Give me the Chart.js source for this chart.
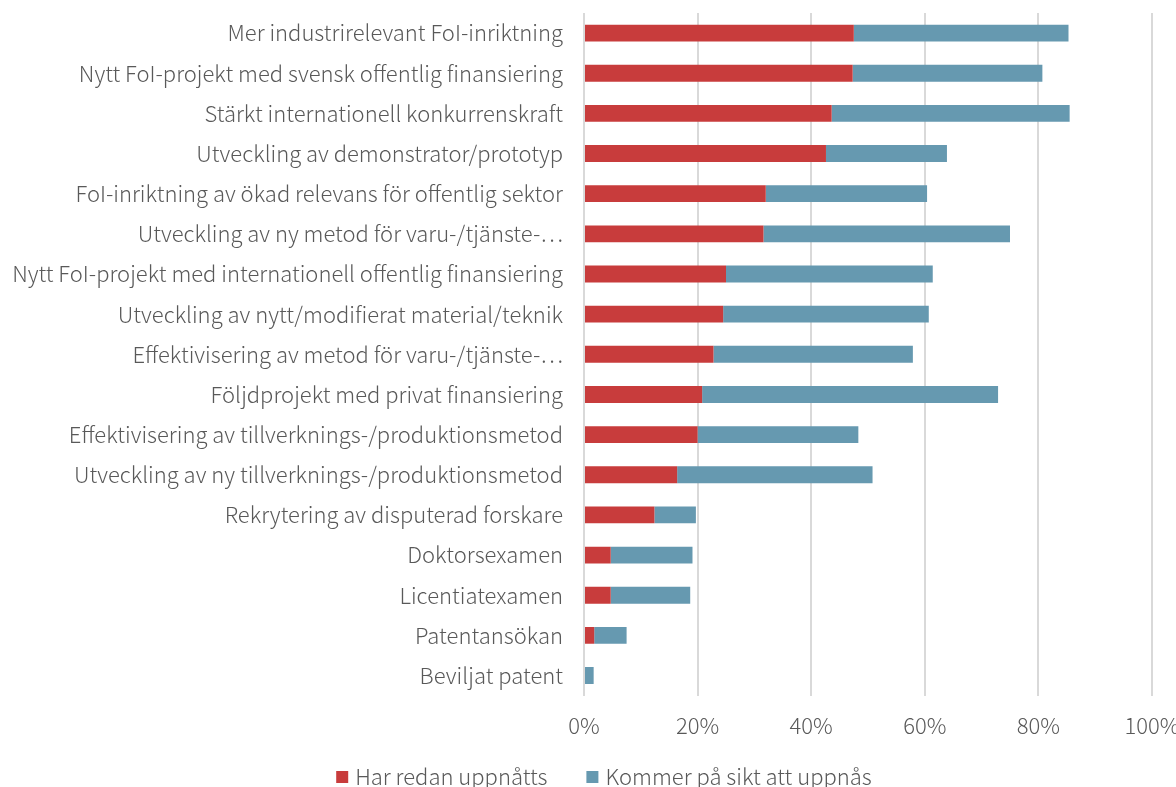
<!DOCTYPE html>
<html lang="sv">
<head>
<meta charset="utf-8">
<title>Uppnådda effekter</title>
<script src="https://cdn.jsdelivr.net/npm/chart.js@4/dist/chart.umd.min.js"></script>
<style>
  html, body { margin: 0; padding: 0; background: #fff; }
  #wrap { width: 1176px; height: 787px; position: relative; }
</style>
</head>
<body>
<div id="wrap"><canvas id="Grafico"></canvas></div>
<script>
// Effekter av projekten (andel, %)
const kategorier = [
  'Mer industrirelevant FoI-inriktning',
  'Nytt FoI-projekt med svensk offentlig finansiering',
  'Stärkt internationell konkurrenskraft',
  'Utveckling av demonstrator/prototyp',
  'FoI-inriktning av ökad relevans för offentlig sektor',
  'Utveckling av ny metod för varu-/tjänste-⋯',
  'Nytt FoI-projekt med internationell offentlig finansiering',
  'Utveckling av nytt/modifierat material/teknik',
  'Effektivisering av metod för varu-/tjänste-⋯',
  'Följdprojekt med privat finansiering',
  'Effektivisering av tillverknings-/produktionsmetod',
  'Utveckling av ny tillverknings-/produktionsmetod',
  'Rekrytering av disputerad forskare',
  'Doktorsexamen',
  'Licentiatexamen',
  'Patentansökan',
  'Beviljat patent'
];

const harRedanUppnatts = [47.5, 47.3, 43.6, 42.6, 32.0, 31.6, 25.0, 24.5, 22.8, 20.8, 20.0, 16.4, 12.4, 4.7, 4.7, 1.8, 0];
const kommerPaSikt     = [37.8, 33.4, 41.9, 21.3, 28.4, 43.4, 36.4, 36.2, 35.1, 52.1, 28.3, 34.4, 7.3, 14.4, 14.0, 5.7, 1.7];

const seriesNamn = ['Har redan uppnåtts', 'Kommer på sikt att uppnås'];
const farger = ['#C83C3C', '#6699B0'];

const FONT = '"Noto Sans CJK JP", "Noto Sans", sans-serif';
const TEXTFARG = '#595959';
const textFont = { family: FONT, size: 22, weight: 300 };

// Egen förklaring under diagrammet (rutor + text), centrerad kring legendMitt
const legendMitt = { x: 604, y: 777 };
const egenForklaring = {
  id: 'egenForklaring',
  afterDraw(chart) {
    const c = chart.ctx;
    const ruta = 12, glapp = 7, mellan = 39;
    c.save();
    c.font = '300 22px ' + FONT;
    c.textBaseline = 'middle';
    c.textAlign = 'left';
    const items = chart.data.datasets.map(ds => ({
      text: ds.label, color: ds.backgroundColor, w: c.measureText(ds.label).width
    }));
    const total = items.reduce((s, it) => s + ruta + glapp + it.w, 0) + mellan * (items.length - 1);
    let x = legendMitt.x - total / 2;
    items.forEach(it => {
      c.fillStyle = it.color;
      c.fillRect(x, legendMitt.y - ruta / 2, ruta, ruta);
      x += ruta + glapp;
      c.fillStyle = TEXTFARG;
      c.fillText(it.text, x, legendMitt.y);
      x += it.w + mellan;
    });
    c.restore();
  }
};

document.addEventListener('DOMContentLoaded', function() {
  const ctx = document.getElementById('Grafico').getContext('2d');

  const data = {
    labels: kategorier,
    datasets: [
      { label: seriesNamn[0], data: harRedanUppnatts, backgroundColor: farger[0] },
      { label: seriesNamn[1], data: kommerPaSikt, backgroundColor: farger[1] }
    ]
  };

  const options = {
    indexAxis: 'y',
    responsive: true,
    maintainAspectRatio: false,
    animation: false,
    layout: { padding: { top: 13, right: 24, left: 0, bottom: 31 } },
    datasets: { bar: { categoryPercentage: 1, barPercentage: 0.42 } },
    scales: {
      x: {
        stacked: true,
        min: 0,
        max: 100,
        border: { display: false },
        grid: { color: '#D9D9D9', lineWidth: 2, drawTicks: false },
        afterFit: s => { s.paddingLeft = 0; s.paddingRight = 0; },
        ticks: {
          stepSize: 20,
          padding: 17,
          color: TEXTFARG,
          font: textFont,
          callback: v => v + '%'
        }
      },
      y: {
        stacked: true,
        border: { display: false },
        grid: { display: false, drawTicks: false },
        afterFit: s => { s.width = 584; s.paddingTop = 0; s.paddingBottom = 0; },
        ticks: {
          padding: 21,
          autoSkip: false,
          color: TEXTFARG,
          font: textFont
        }
      }
    },
    plugins: {
      tooltip: { enabled: false },
      legend: { display: false }
    }
  };

  new Chart(ctx, { type: 'bar', data: data, options: options, plugins: [egenForklaring] });
});
</script>
</body>
</html>
